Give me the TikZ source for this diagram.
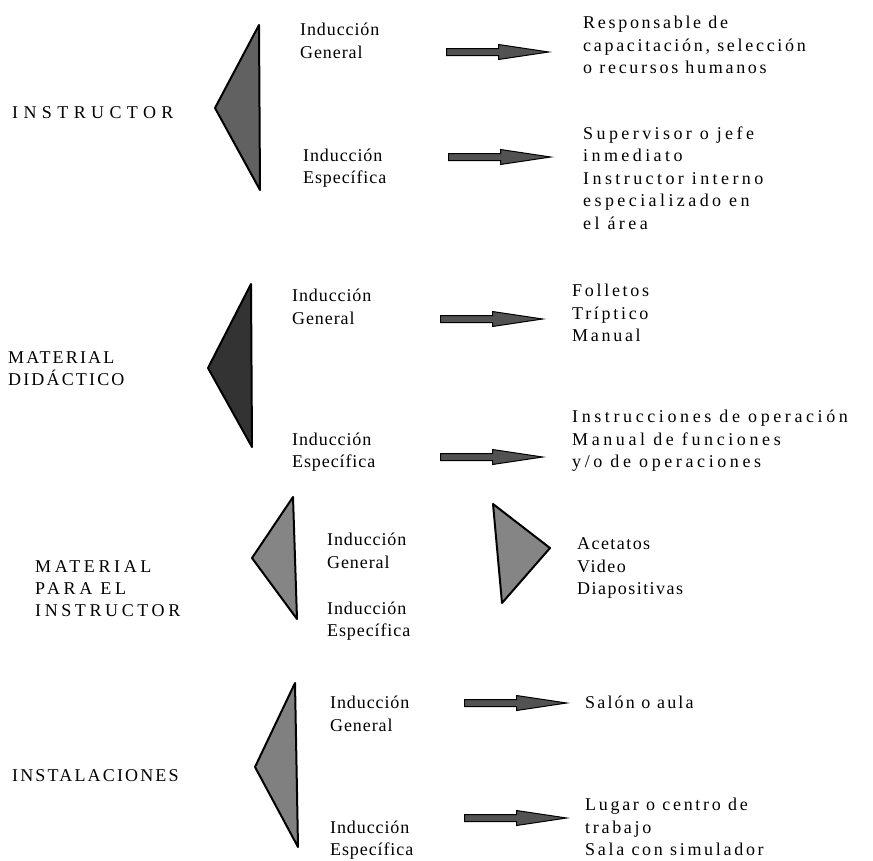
\documentclass[tikz,border=0pt]{standalone}
\usepackage{fontspec}
\setmainfont{Liberation Serif}
\usetikzlibrary{shapes.arrows}
\begin{document}
\begin{tikzpicture}[x=1pt,y=-1pt,
  txt/.style={anchor=west, align=left, inner sep=0pt, font=\fontsize{18}{22.5}\selectfont\addfontfeatures{LetterSpace=#1}},
  txt/.default=15,
  ind/.style={anchor=west, align=left, inner sep=0pt, font=\fontsize{18}{22.5}\selectfont\addfontfeatures{LetterSpace=5}},
  lbl/.style={anchor=west, align=left, inner sep=0pt, font=\fontsize{18}{22}\selectfont\addfontfeatures{LetterSpace=#1}},
  lbl/.default=20,
  wedge/.style={draw=black, line width=2pt, line join=round},
  arr/.style={single arrow, draw=black, fill=black!68, line width=1pt,
    minimum height=102pt, inner xsep=0pt, inner ysep=3pt,
    single arrow head extend=4pt, single arrow tip angle=17}]
\useasboundingbox (0,0) rectangle (873,860);

% --- INSTRUCTOR ---
\node[lbl=30] (l1) at (12,113) {INSTRUCTOR};
\draw[wedge, fill=black!62] (259,25) -- (215,108) -- (260,190) -- cycle;
\node[ind] (g1) at (300,41) {Inducción\\General};
\node[ind] (e1) at (303,168) {Inducción\\Específica};
\node[arr] (a1) at (486,52) {};
\node[arr] (a2) at (488,157) {};
\node[txt=15] (r1) at (583,45) {Responsable de\\capacitación, selección\\o recursos humanos};
\node[txt=19] (r2) at (583,178) {Supervisor o jefe\\inmediato\\Instructor interno\\especializado en\\el área};

% --- MATERIAL DIDACTICO ---
\node[lbl=12] (l2) at (8,369) {MATERIAL\\DIDÁCTICO};
\draw[wedge, fill=black!80] (251,284) -- (208,368) -- (252,447) -- cycle;
\node[ind] (g2) at (292,307) {Inducción\\General};
\node[ind] (e2) at (292,452) {Inducción\\Específica};
\node[arr] (a3) at (480,319) {};
\node[arr] (a4) at (480,457) {};
\node[txt=15] (r3) at (572,313) {Folletos\\Tríptico\\Manual};
\node[txt=20] (r4) at (572,441) {Instrucciones de operación\\Manual de funciones\\y/o de operaciones};

% --- MATERIAL PARA EL INSTRUCTOR ---
\node[lbl=20] (l3) at (35,589) {MATERIAL\\PARA EL\\INSTRUCTOR};
\draw[wedge, fill=black!48] (293,497) -- (252,558) -- (297,619) -- cycle;
\node[ind] (g3) at (327,551) {Inducción\\General};
\node[ind] (e3) at (327,621) {Inducción\\Específica};
\draw[wedge, fill=black!48] (493,504) -- (550,548) -- (502,603) -- cycle;
\node[txt=8] (r5) at (577,568) {Acetatos\\Video\\Diapositivas};

% --- INSTALACIONES ---
\node[lbl=12] (l4) at (12,776) {INSTALACIONES};
\draw[wedge, fill=black!50] (295,683) -- (255,767) -- (298,847) -- cycle;
\node[ind] (g4) at (330,714) {Inducción\\General};
\node[ind] (e4) at (330,840) {Inducción\\Específica};
\node[arr] (a5) at (504,703) {};
\node[arr] (a6) at (504,818) {};
\node[txt=12] (r6) at (585,702) {Salón o aula};
\node[txt=15] (r7) at (585,827) {Lugar o centro de\\trabajo\\Sala con simulador};
\end{tikzpicture}
\end{document}
